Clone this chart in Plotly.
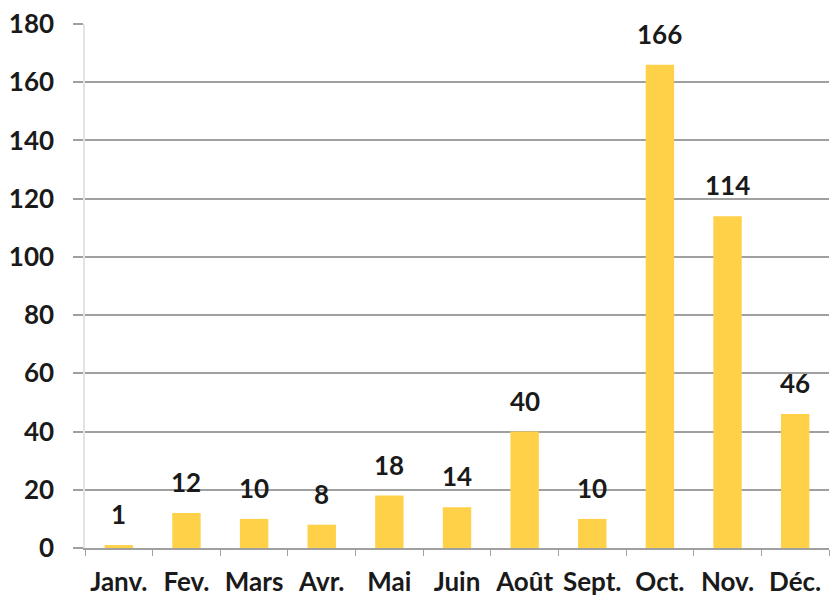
import plotly.graph_objects as go

months = ["Janv.", "Fev.", "Mars", "Avr.", "Mai", "Juin", "Août", "Sept.", "Oct.", "Nov.", "Déc."]
counts = [1, 12, 10, 8, 18, 14, 40, 10, 166, 114, 46]
y_ticks = [0, 20, 40, 60, 80, 100, 120, 140, 160, 180]

FONT = "Lato"
TEXT = "#1a1a1a"
GRID = "#a0a0a0"

fig = go.Figure()
fig.add_trace(go.Bar(
    x=months,
    y=counts,
    width=0.42,
    marker=dict(color="#FFD148", line=dict(width=0)),
    hoverinfo="x+y",
))

# value labels floating above each bar
for m, v in zip(months, counts):
    fig.add_annotation(
        x=m, y=v, text=f"<b>{v}</b>", showarrow=False,
        yanchor="bottom", yshift=13,
        font=dict(family=FONT, size=26, color=TEXT),
    )

fig.update_layout(
    width=830, height=605,
    margin=dict(l=85, r=1, t=24, b=57),
    paper_bgcolor="white",
    plot_bgcolor="white",
    showlegend=False,
    font=dict(family=FONT, size=26, color=TEXT),
)

fig.update_xaxes(
    tickvals=months,
    ticktext=[f"<b>{m}</b>" for m in months],
    tickson="boundaries",
    ticks="outside", ticklen=6, tickcolor=GRID, tickwidth=1,
    showline=True, linecolor=GRID, linewidth=1.5,
    showgrid=False,
    ticklabelstandoff=10,
    tickfont=dict(family=FONT, size=26, color=TEXT),
)

fig.update_yaxes(
    range=[0, 180],
    tickvals=y_ticks,
    ticktext=[f"<b>{t}</b>" for t in y_ticks],
    showgrid=True, gridcolor=GRID, gridwidth=1.5,
    zeroline=False,
    ticks="outside", ticklen=10, tickcolor=GRID, tickwidth=1.5,
    showline=True, linecolor="#e4e4e4", linewidth=1.5,
    ticklabelstandoff=14,
    tickfont=dict(family=FONT, size=26, color=TEXT),
)

fig.write_html("out.html")
